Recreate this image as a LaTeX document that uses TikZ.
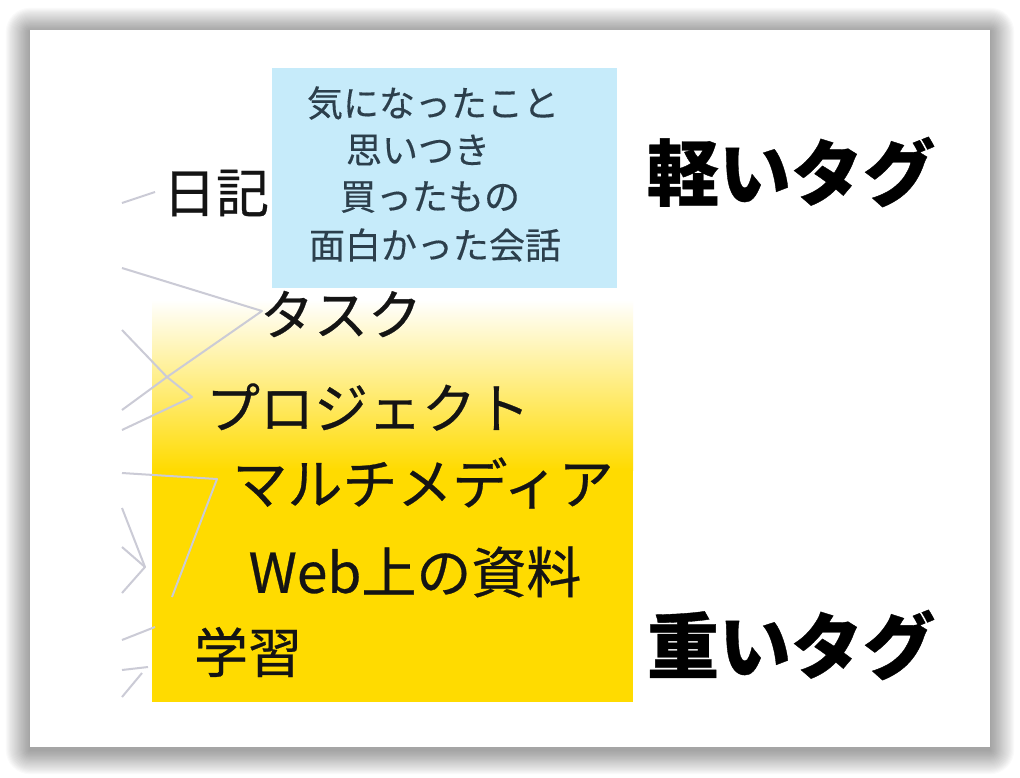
\documentclass[tikz,border=0pt]{standalone}
\usepackage{fontspec}
\newfontfamily\jpfont[FakeBold=0.5]{Noto Sans CJK JP}
\newfontfamily\jpnote[FakeBold=0.3]{Noto Sans CJK JP}
\usetikzlibrary{positioning}
\definecolor{Sky}{HTML}{C6EBFA}
\definecolor{Gold}{HTML}{FFDB00}
\definecolor{Ink}{HTML}{141414}
\definecolor{Slate}{HTML}{2C3F4C}
\definecolor{Wire}{HTML}{CBCBD6}

\begin{document}
\begin{tikzpicture}[x=1pt,y=-1pt,
  tag/.style={font=\jpfont\fontsize{#1}{#1}\selectfont,text=Ink,inner sep=0pt},
  note/.style={font=\jpnote\fontsize{36}{36}\selectfont,text=Slate,inner sep=0pt},
  weight/.style={font=\jpfont\bfseries\fontsize{72}{72}\selectfont,text=black,inner sep=0pt},
  wire/.style={draw=Wire,line width=2pt,line join=round}
]
\useasboundingbox (0,0) rectangle (1020,777);
% card with its shadow
\foreach \k in {1,...,22}
  \fill[black,opacity=0.02,rounded corners=1.1*\k pt] (30-1.1*\k,32-1.1*\k) rectangle (990+1.1*\k,750+1.1*\k);
\fill[white] (30,30) rectangle (990,747);
% the two tag areas
\fill[Sky] (272,68) rectangle (617,288);
\fill[Gold] (152,300) rectangle (633,702);
\shade[top color=white,bottom color=Gold] (152,300) rectangle (633,470);

% joints of the cropped graph
\coordinate (e0) at (122,203);
\coordinate (e1) at (155,192);
\coordinate (t0) at (122,268);
\coordinate (t1) at (262,311);
\coordinate (x1) at (167,377);
\coordinate (x2) at (192,397);
\coordinate (m1) at (217,479);
\coordinate (m2) at (172,597);
\coordinate (v1) at (145,567);
\draw[wire] (e0) -- (e1);
\draw[wire] (t0) -- (t1) -- (x1) -- (122,410);
\draw[wire] (122,330) -- (x1) -- (x2) -- (122,430);
\draw[wire] (122,473) -- (m1) -- (m2);
\draw[wire] (122,508) -- (v1) -- (122,593);
\draw[wire] (122,547) -- (v1);
\draw[wire] (122,640) -- (155,627);
\draw[wire] (122,670) -- (148,667);
\draw[wire] (122,697) -- (142,673);

% light tags
\node[tag=53] (diary) at (216,193) {日記};
\node[note] (n1) at (433,103) {気になったこと};
\node[note] (n2) at (418,150) {思いつき};
\node[note] (n3) at (430,197) {買ったもの};
\node[note] (n4) at (435,245) {面白かった会話};
% heavy tags
\node[tag=54] (task) at (341,314) {タスク};
\node[tag=54] (proj) at (368,407) {プロジェクト};
\node[tag=55] (media) at (423,483) {マルチメディア};
\node[tag=55] (web) at (415,572) {Web上の資料};
\node[tag=54] (study) at (248,652) {学習};
% scale labels
\node[weight] (light) at (791,172) {軽いタグ};
\node[weight] (heavy) at (791,645) {重いタグ};
\end{tikzpicture}
\end{document}
